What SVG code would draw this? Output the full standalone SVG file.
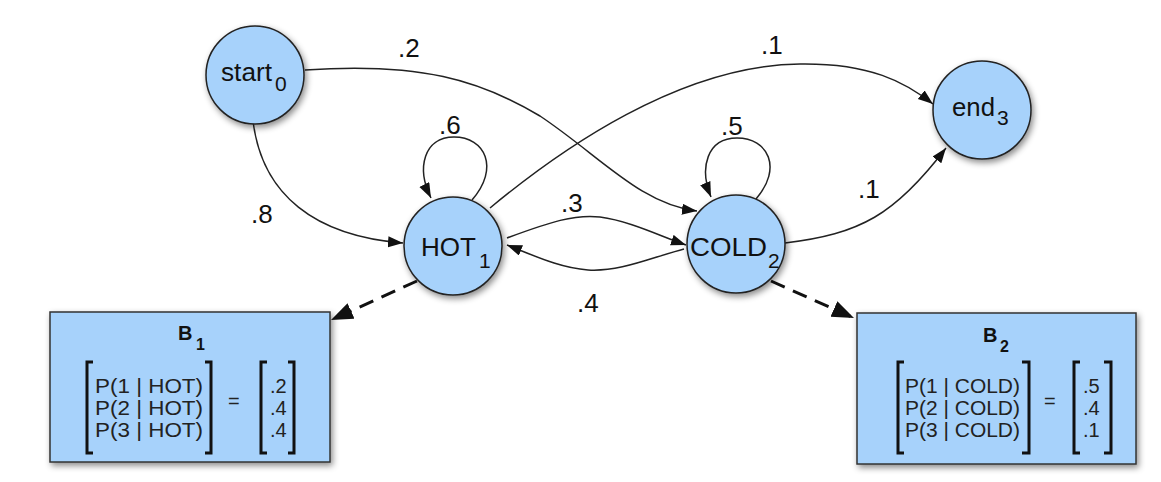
<svg xmlns="http://www.w3.org/2000/svg" width="1161" height="482" viewBox="0 0 1161 482">
  <defs>
    <filter id="shadow" x="-30%" y="-30%" width="160%" height="160%">
      <feDropShadow dx="2" dy="3" stdDeviation="3" flood-color="#000" flood-opacity="0.45"/>
    </filter>
    <marker id="arrow" markerUnits="userSpaceOnUse" markerWidth="16" markerHeight="12" refX="15" refY="5.5" orient="auto">
      <path d="M0,0 L15,5.5 L0,11 z" fill="#111"/>
    </marker>
    <marker id="arrow-big" markerUnits="userSpaceOnUse" markerWidth="24" markerHeight="18" refX="22" refY="8.5" orient="auto">
      <path d="M0,0 L22,8.5 L0,17 z" fill="#111"/>
    </marker>
    <style>
      .state { fill: #a7d2fb; stroke: #222; stroke-width: 1.5; filter: url(#shadow); }
      .box { fill: #a7d2fb; stroke: #333; stroke-width: 1.5; filter: url(#shadow); }
      .lbl { font-family: "Liberation Sans", Arial, sans-serif; font-size: 26px; fill: #111; }
      .sub { font-family: "Liberation Sans", Arial, sans-serif; font-size: 21px; fill: #111; }
      .prob { font-family: "Liberation Sans", Arial, sans-serif; font-size: 26px; fill: #111; }
      .row { font-family: "Liberation Sans", Arial, sans-serif; font-size: 20px; fill: #222; }
      .title { font-family: "Liberation Sans", Arial, sans-serif; font-size: 20px; font-weight: bold; fill: #111; }
      .tsub { font-family: "Liberation Sans", Arial, sans-serif; font-size: 16px; font-weight: bold; fill: #111; }
      .edge { fill: none; stroke: #222; stroke-width: 1.5; marker-end: url(#arrow); }
      .emit { fill: none; stroke: #111; stroke-width: 3; stroke-dasharray: 15 9; marker-end: url(#arrow-big); }
      .bracket { fill: none; stroke: #111; stroke-width: 3; }
    </style>
  </defs>

  <!-- transitions and emission links -->
  <g id="connectors">
    <!-- start -> COLD (.2) -->
    <path class="edge" d="M305,70 C420,62 480,80 540,116 C600,156 640,204 697,211"/>
    <!-- HOT -> end (.1) -->
    <path class="edge" d="M490,208 C560,150 680,65 800,64 C870,63 905,82 933,104"/>
    <!-- start -> HOT (.8) -->
    <path class="edge" d="M253,121 C262,195 315,236 403,243"/>
    <!-- HOT self loop (.6) -->
    <path class="edge" d="M472,200 C500,168 485,137 454,137 C424,137 416,168 431,198"/>
    <!-- COLD self loop (.5) -->
    <path class="edge" d="M756,199 C783,168 768,138 737,138 C707,138 699,168 711,197"/>
    <!-- HOT -> COLD (.3) -->
    <path class="edge" d="M507,238 C550,222 575,214 600,217 C630,221 660,236 686,245"/>
    <!-- COLD -> HOT (.4) -->
    <path class="edge" d="M684,249 C650,258 620,272 588,270 C560,268 535,256 507,245"/>
    <!-- COLD -> end (.1) -->
    <path class="edge" d="M785,243 C860,234 895,215 946,148"/>
    <!-- emissions -->
    <path class="emit" d="M417,281 L331,320"/>
    <path class="emit" d="M771,281 L854,318"/>
  </g>

  <!-- transition probabilities -->
  <g id="probabilities">
    <text class="prob" x="398" y="57">.2</text>
    <text class="prob" x="761" y="54">.1</text>
    <text class="prob" x="439" y="134">.6</text>
    <text class="prob" x="721" y="135">.5</text>
    <text class="prob" x="251" y="223">.8</text>
    <text class="prob" x="561" y="212">.3</text>
    <text class="prob" x="577" y="312">.4</text>
    <text class="prob" x="858" y="198">.1</text>
  </g>

  <g id="start">
    <circle class="state" cx="255" cy="75" r="49"/>
    <text class="lbl" x="221" y="81" textLength="51" lengthAdjust="spacingAndGlyphs">start</text>
    <text class="sub" x="275" y="91">0</text>
  </g>

  <g id="hot">
    <circle class="state" cx="453" cy="246" r="49"/>
    <text class="lbl" x="421" y="256" textLength="55" lengthAdjust="spacingAndGlyphs">HOT</text>
    <text class="sub" x="479" y="268">1</text>
  </g>

  <g id="cold">
    <circle class="state" cx="736" cy="244" r="49"/>
    <text class="lbl" x="690" y="256" textLength="77" lengthAdjust="spacingAndGlyphs">COLD</text>
    <text class="sub" x="768" y="268">2</text>
  </g>

  <g id="end">
    <circle class="state" cx="982" cy="110" r="49"/>
    <text class="lbl" x="952" y="116" textLength="43" lengthAdjust="spacingAndGlyphs">end</text>
    <text class="sub" x="997" y="125">3</text>
  </g>

  <!-- emission distribution for HOT -->
  <g id="b1">
    <rect class="box" x="50" y="312" width="280" height="150"/>
    <text class="title" x="178" y="340">B</text>
    <text class="tsub" x="196" y="350">1</text>
    <path class="bracket" d="M93,362 H87 V453 H93"/>
    <path class="bracket" d="M205,362 H211 V453 H205"/>
    <text class="row" x="95" y="393" textLength="108" lengthAdjust="spacingAndGlyphs">P(1 | HOT)</text>
    <text class="row" x="95" y="415" textLength="108" lengthAdjust="spacingAndGlyphs">P(2 | HOT)</text>
    <text class="row" x="95" y="437" textLength="108" lengthAdjust="spacingAndGlyphs">P(3 | HOT)</text>
    <text class="row" x="228" y="408">=</text>
    <path class="bracket" d="M267,362 H261 V453 H267"/>
    <path class="bracket" d="M288,362 H294 V453 H288"/>
    <text class="row" x="270" y="393">.2</text>
    <text class="row" x="270" y="415">.4</text>
    <text class="row" x="270" y="437">.4</text>
  </g>

  <!-- emission distribution for COLD -->
  <g id="b2">
    <rect class="box" x="857" y="313" width="279" height="151"/>
    <text class="title" x="983" y="342">B</text>
    <text class="tsub" x="1000" y="352">2</text>
    <path class="bracket" d="M904,362 H898 V453 H904"/>
    <path class="bracket" d="M1022,362 H1029 V453 H1022"/>
    <text class="row" x="905" y="393" textLength="115" lengthAdjust="spacingAndGlyphs">P(1 | COLD)</text>
    <text class="row" x="905" y="415" textLength="115" lengthAdjust="spacingAndGlyphs">P(2 | COLD)</text>
    <text class="row" x="905" y="437" textLength="115" lengthAdjust="spacingAndGlyphs">P(3 | COLD)</text>
    <text class="row" x="1044" y="408">=</text>
    <path class="bracket" d="M1080,362 H1074 V453 H1080"/>
    <path class="bracket" d="M1104,362 H1111 V453 H1104"/>
    <text class="row" x="1083" y="393">.5</text>
    <text class="row" x="1083" y="415">.4</text>
    <text class="row" x="1083" y="437">.1</text>
  </g>
</svg>
